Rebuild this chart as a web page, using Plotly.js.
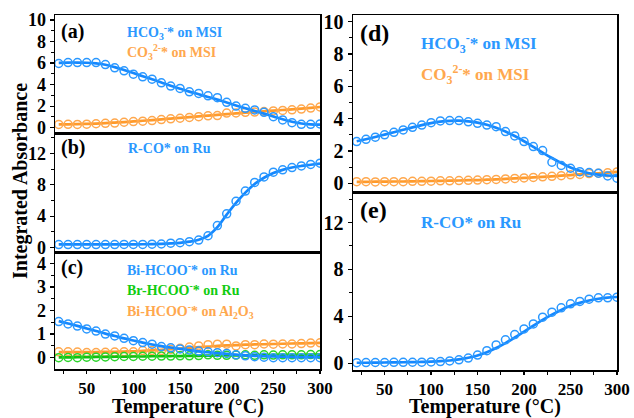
<!DOCTYPE html>
<html>
<head>
<meta charset="utf-8">
<script src="https://cdn.plot.ly/plotly-3.0.1.min.js"></script>
<style>html,body{margin:0;padding:0;background:#fff;}#chart{width:634px;height:418px;}</style>
</head>
<body>
<div id="chart"></div>
<script>
// Temperatures (°C)
const temperature = [20,30,40,50,60,70,80,90,100,110,120,130,140,150,160,170,180,190,200,210,220,230,240,250,260,270,280,290,300];

// Panel (a): adsorbed species on MSI
const a_hco3_data = [5.96,6.05,6.05,6.05,6.05,5.86,5.56,5.28,4.97,4.72,4.50,4.17,3.86,3.64,3.33,3.18,2.96,2.78,2.35,2.00,1.79,1.64,1.42,1.02,0.71,0.46,0.31,0.31,0.34];
const a_hco3_fit  = [6.02,6.05,6.05,6.03,5.97,5.85,5.62,5.35,5.07,4.78,4.50,4.20,3.90,3.62,3.35,3.10,2.85,2.60,2.33,2.06,1.80,1.55,1.30,1.04,0.78,0.55,0.38,0.30,0.28];
const a_co3_data  = [0.30,0.31,0.30,0.32,0.36,0.40,0.42,0.50,0.56,0.60,0.66,0.75,0.82,0.87,0.95,1.02,1.10,1.12,1.35,1.36,1.42,1.45,1.50,1.55,1.60,1.65,1.72,1.82,1.92];
const a_co3_fit   = [0.30,0.31,0.33,0.35,0.38,0.42,0.47,0.52,0.58,0.64,0.70,0.77,0.84,0.91,0.98,1.05,1.12,1.19,1.26,1.32,1.39,1.45,1.52,1.58,1.64,1.70,1.77,1.84,1.92];

// Panel (b): R-CO* on Ru
const b_rco_data = [0.38,0.38,0.38,0.38,0.38,0.38,0.38,0.40,0.40,0.40,0.42,0.45,0.55,0.62,0.75,0.95,1.50,2.80,4.30,5.90,7.20,8.30,9.00,9.60,9.90,10.20,10.40,10.60,10.75];
const b_rco_fit  = [0.40,0.40,0.40,0.40,0.40,0.40,0.40,0.40,0.41,0.42,0.44,0.47,0.52,0.60,0.75,1.00,1.50,2.60,4.20,5.70,7.00,8.10,8.90,9.50,9.90,10.20,10.40,10.55,10.70];

// Panel (c): formate species
const c_biru_data = [1.53,1.43,1.34,1.22,1.13,1.00,0.92,0.82,0.72,0.64,0.57,0.47,0.42,0.37,0.33,0.28,0.25,0.21,0.18,0.12,0.08,0.04,0.02,0.00,0.00,0.00,0.00,0.00,0.00];
const c_biru_fit  = [1.55,1.45,1.35,1.24,1.13,1.02,0.92,0.82,0.73,0.64,0.56,0.49,0.43,0.37,0.32,0.27,0.23,0.19,0.16,0.13,0.10,0.08,0.06,0.05,0.04,0.03,0.02,0.02,0.02];
const c_brru_data = [0.00,0.01,0.00,0.02,0.02,0.03,0.04,0.05,0.05,0.06,0.06,0.07,0.07,0.08,0.08,0.09,0.12,0.10,0.10,0.11,0.12,0.10,0.12,0.11,0.12,0.12,0.12,0.13,0.13];
const c_brru_fit  = [0.01,0.01,0.02,0.02,0.03,0.03,0.04,0.04,0.05,0.05,0.06,0.06,0.07,0.07,0.08,0.08,0.09,0.09,0.10,0.10,0.10,0.11,0.11,0.11,0.12,0.12,0.12,0.13,0.13];
const c_bial_data = [0.25,0.25,0.24,0.22,0.22,0.23,0.24,0.25,0.25,0.30,0.30,0.30,0.35,0.40,0.45,0.50,0.55,0.57,0.57,0.50,0.55,0.55,0.58,0.57,0.58,0.58,0.60,0.62,0.63];
const c_bial_fit  = [0.24,0.24,0.24,0.24,0.24,0.25,0.25,0.26,0.27,0.29,0.31,0.33,0.36,0.39,0.42,0.45,0.47,0.50,0.52,0.53,0.55,0.56,0.57,0.58,0.59,0.60,0.61,0.62,0.63];

// Panel (d): adsorbed species on MSI
const d_hco3_data = [2.58,2.72,2.85,3.00,3.15,3.30,3.46,3.60,3.75,3.86,3.88,3.88,3.80,3.71,3.60,3.50,3.20,2.93,2.58,2.27,2.02,1.30,1.10,0.93,0.72,0.66,0.62,0.45,0.31];
const d_hco3_fit  = [2.60,2.72,2.86,3.01,3.16,3.31,3.46,3.60,3.72,3.81,3.86,3.87,3.83,3.75,3.62,3.44,3.20,2.92,2.60,2.25,1.90,1.56,1.25,0.98,0.77,0.62,0.53,0.48,0.46];
const d_co3_data  = [0.10,0.10,0.08,0.10,0.10,0.10,0.12,0.12,0.13,0.15,0.15,0.17,0.18,0.20,0.22,0.24,0.27,0.30,0.33,0.36,0.40,0.43,0.47,0.52,0.55,0.60,0.62,0.65,0.70];
const d_co3_fit   = [0.09,0.09,0.10,0.10,0.11,0.11,0.12,0.13,0.14,0.15,0.16,0.17,0.19,0.20,0.22,0.24,0.27,0.30,0.33,0.36,0.40,0.43,0.47,0.51,0.55,0.59,0.62,0.66,0.70];

// Panel (e): R-CO* on Ru
const e_rco_data = [0.05,0.06,0.07,0.07,0.08,0.08,0.09,0.10,0.12,0.15,0.20,0.30,0.45,0.70,1.08,1.57,2.00,2.45,2.93,3.36,3.93,4.36,4.73,5.07,5.27,5.47,5.58,5.58,5.64];
const e_rco_fit  = [0.05,0.05,0.06,0.07,0.08,0.09,0.10,0.12,0.14,0.18,0.24,0.33,0.47,0.67,0.95,1.30,1.72,2.20,2.70,3.20,3.70,4.15,4.55,4.90,5.15,5.35,5.50,5.60,5.65];

const BLUE = '#2a98ff', BLUE_L = '#1488ff', ORANGE = '#ffa84e', ORANGE_L = '#ff9a2a', GREEN = '#2ad42a', GREEN_L = '#12c012';

function pair(y_data, y_fit, color, lineColor, xa, ya) {
  return [
    {x: temperature, y: y_fit, type: 'scatter', mode: 'lines', xaxis: xa, yaxis: ya,
     line: {color: lineColor, width: 2.7, shape: 'spline'}, hoverinfo: 'skip', showlegend: false},
    {x: temperature, y: y_data, type: 'scatter', mode: 'markers', xaxis: xa, yaxis: ya,
     marker: {symbol: 'circle-open', size: 8, color: color, line: {width: 1.5, color: color}}, showlegend: false}
  ];
}

const traces = [].concat(
  pair(a_co3_data, a_co3_fit, ORANGE, ORANGE_L, 'x', 'y'),
  pair(a_hco3_data, a_hco3_fit, BLUE, BLUE_L, 'x', 'y'),
  pair(b_rco_data, b_rco_fit, BLUE, BLUE_L, 'x2', 'y2'),
  pair(c_bial_data, c_bial_fit, ORANGE, ORANGE_L, 'x3', 'y3'),
  pair(c_brru_data, c_brru_fit, GREEN, GREEN_L, 'x3', 'y3'),
  pair(c_biru_data, c_biru_fit, BLUE, BLUE_L, 'x3', 'y3'),
  pair(d_co3_data, d_co3_fit, ORANGE, ORANGE_L, 'x4', 'y4'),
  pair(d_hco3_data, d_hco3_fit, BLUE, BLUE_L, 'x4', 'y4'),
  pair(e_rco_data, e_rco_fit, BLUE, BLUE_L, 'x5', 'y5')
);

const W = 634, H = 418;
const px = v => v / W, py = v => 1 - v / H;
const FONT = '"Liberation Serif", "Times New Roman", "DejaVu Serif", serif';

function xaxis(domain, anchor, showLabels, fs) {
  return {
    domain: domain, anchor: anchor, range: [16, 300], showgrid: false, zeroline: false,
    showline: true, mirror: true, linecolor: '#000', linewidth: 1.5,
    ticks: showLabels ? 'outside' : '', ticklen: 3, tickwidth: 1.2, tickcolor: '#000',
    tickvals: showLabels ? [50,100,150,200,250,300] : [], showticklabels: showLabels,
    minor: showLabels ? {tickvals: [25,75,125,175,225,275], ticks: 'outside', ticklen: 3, tickwidth: 1, tickcolor: '#000'} : undefined,
    tickfont: {family: FONT, size: fs, color: '#000', weight: 'bold'}
  };
}
function yaxis(domain, anchor, range, dtick, minorDtick, fs) {
  return {
    domain: domain, anchor: anchor, range: range, showgrid: false, zeroline: false,
    showline: true, mirror: true, linecolor: '#000', linewidth: 1.5,
    ticks: 'outside', ticklen: 4, tickwidth: 1.2, tickcolor: '#000',
    tick0: 0, dtick: dtick,
    minor: {tick0: 0, dtick: minorDtick, ticks: 'outside', ticklen: 2.5, tickwidth: 1, tickcolor: '#000'},
    tickfont: {family: FONT, size: fs, color: '#000', weight: 'bold'}
  };
}

const LX = [px(55), px(320)], RX = [px(353), px(617)];

function ann(text, x, y, size, color, extra) {
  return Object.assign({text: text, xref: 'paper', yref: 'paper', x: px(x), y: py(y),
    xanchor: 'left', yanchor: 'middle', showarrow: false,
    font: {family: FONT, size: size, color: color, weight: 'bold'}}, extra || {});
}

const annotations = [
  ann('(a)', 59, 31, 20, '#000'),
  ann('HCO<sub>3</sub><sup>-</sup>* on MSI', 125, 32, 14, BLUE),
  ann('CO<sub>3</sub><sup>2-</sup>* on MSI', 125, 52, 14, ORANGE),
  ann('(b)', 59, 147, 20, '#000'),
  ann('R-CO* on Ru', 126, 149, 14, BLUE),
  ann('(c)', 59, 267, 20, '#000'),
  ann('Bi-HCOO<sup>-</sup>* on Ru', 125, 269, 14, BLUE),
  ann('Br-HCOO<sup>-</sup>* on Ru', 125, 289, 14, '#11cc11'),
  ann('Bi-HCOO<sup>-</sup>* on Al<sub>2</sub>O<sub>3</sub>', 125, 311, 14, ORANGE),
  ann('(d)', 358, 33, 24, '#000'),
  ann('HCO<sub>3</sub><sup>-</sup>* on MSI', 419, 43, 17, BLUE),
  ann('CO<sub>3</sub><sup>2-</sup>* on MSI', 419, 74, 17, ORANGE),
  ann('(e)', 358, 210, 24, '#000'),
  ann('R-CO* on Ru', 419, 223, 17, BLUE),
  ann('Integrated Absorbance', 20, 181, 20, '#000', {xanchor: 'center', textangle: -90}),
  ann('Temperature (°C)', 187.5, 406, 20, '#000', {xanchor: 'center'}),
  ann('Temperature (°C)', 485, 406, 20, '#000', {xanchor: 'center'})
];

const layout = {
  width: W, height: H, margin: {l: 0, r: 0, t: 0, b: 0},
  paper_bgcolor: '#fff', plot_bgcolor: '#fff', showlegend: false,
  font: {family: FONT},
  xaxis: xaxis(LX, 'y', false, 17),
  yaxis: yaxis([py(133), py(15)], 'x', [-0.5, 10.47], 2, 1, 18),
  xaxis2: xaxis(LX, 'y2', false, 17),
  yaxis2: yaxis([py(252), py(133)], 'x2', [-0.57, 14.6], 4, 2, 18),
  xaxis3: xaxis(LX, 'y3', true, 17),
  yaxis3: yaxis([py(369), py(252)], 'x3', [-0.48, 4.48], 1, 0.5, 18),
  xaxis4: xaxis(RX, 'y4', false, 17),
  yaxis4: yaxis([py(192), py(15)], 'x4', [-0.54, 10.41], 2, 1, 20),
  xaxis5: xaxis(RX, 'y5', true, 17),
  yaxis5: yaxis([py(370), py(192)], 'x5', [-0.57, 14.6], 4, 2, 20),
  annotations: annotations
};

Plotly.newPlot('chart', traces, layout, {displayModeBar: false, staticPlot: true});
</script>
</body>
</html>
